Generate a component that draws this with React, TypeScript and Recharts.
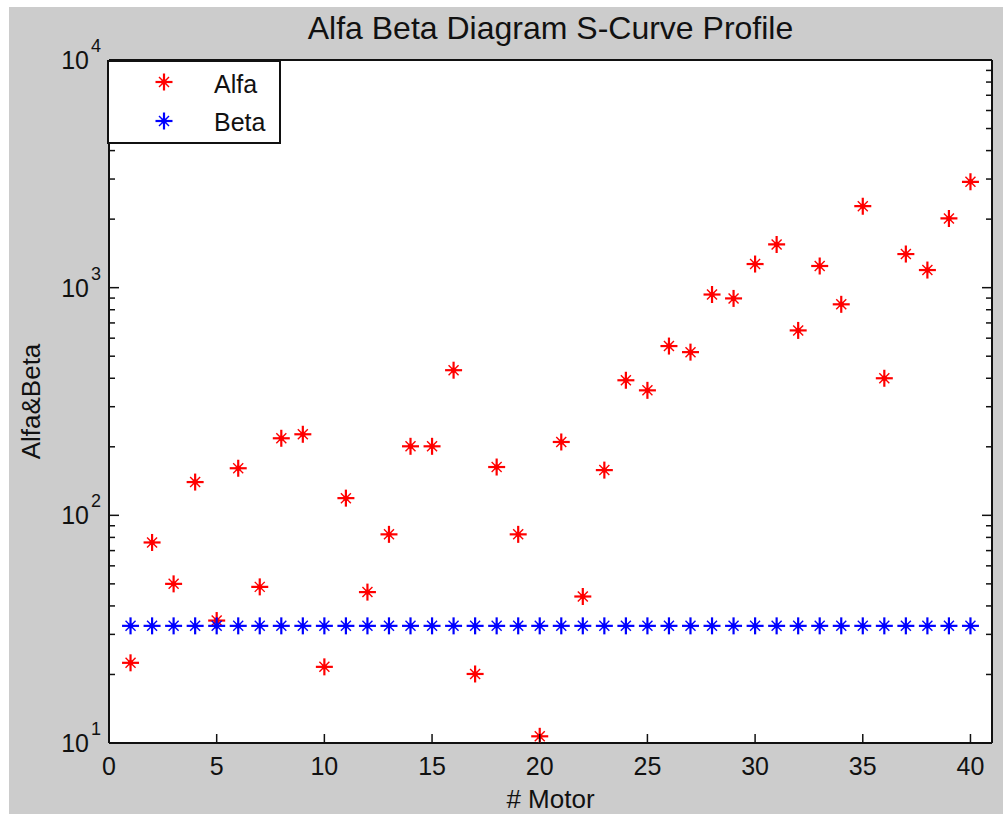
import { ScatterChart, Scatter, XAxis, YAxis, CartesianGrid, Legend } from "recharts";

const motors = [
  1, 2, 3, 4, 5, 6, 7, 8, 9, 10, 11, 12, 13, 14, 15, 16, 17, 18, 19, 20,
  21, 22, 23, 24, 25, 26, 27, 28, 29, 30, 31, 32, 33, 34, 35, 36, 37, 38, 39, 40,
];

const alfa = [
  22.5, 76, 50, 140, 34.5, 161, 48.5, 218, 227, 21.6,
  119, 46, 82.5, 201, 201, 434, 20.1, 163, 82.5, 10.7,
  210, 44, 158, 392, 354, 554, 521, 933, 897, 1270,
  1548, 649, 1245, 845, 2281, 400, 1405, 1195, 2014, 2917,
];

const beta = [
  32.7, 32.7, 32.7, 32.7, 32.7, 32.7, 32.7, 32.7, 32.7, 32.7,
  32.7, 32.7, 32.7, 32.7, 32.7, 32.7, 32.7, 32.7, 32.7, 32.7,
  32.7, 32.7, 32.7, 32.7, 32.7, 32.7, 32.7, 32.7, 32.7, 32.7,
  32.7, 32.7, 32.7, 32.7, 32.7, 32.7, 32.7, 32.7, 32.7, 32.7,
];

const xTicks = [0, 5, 10, 15, 20, 25, 30, 35, 40];
const yTicks = [
  10, 20, 30, 40, 50, 60, 70, 80, 90,
  100, 200, 300, 400, 500, 600, 700, 800, 900,
  1000, 2000, 3000, 4000, 5000, 6000, 7000, 8000, 9000,
  10000,
];
const decadeLabels: Record<number, string> = { 10: "1", 100: "2", 1000: "3", 10000: "4" };

const alfaData = motors.map((m, i) => ({ motor: m, value: alfa[i] }));
const betaData = motors.map((m, i) => ({ motor: m, value: beta[i] }));

const FONT = '"Liberation Sans", Arial, sans-serif';
const INK = "#111";
const axisStyle = { stroke: INK, strokeWidth: 2 };

// matlab-style '*' marker
function Asterisk(props: any) {
  const { cx, cy, fill } = props;
  if (cx == null || cy == null) return null;
  const a = 8.5;
  const d = 5;
  return (
    <g stroke={fill}>
      <line x1={cx - a} y1={cy} x2={cx + a} y2={cy} strokeWidth={2.2} />
      <line x1={cx} y1={cy - a} x2={cx} y2={cy + a} strokeWidth={2.2} />
      <line x1={cx - d} y1={cy - d} x2={cx + d} y2={cy + d} strokeWidth={1.4} />
      <line x1={cx - d} y1={cy + d} x2={cx + d} y2={cy - d} strokeWidth={1.4} />
      <circle cx={cx} cy={cy} r={2.7} fill={fill} stroke="none" />
    </g>
  );
}

function BottomTick({ x, y, payload }: any) {
  return (
    <g>
      <line x1={x} x2={x} y1={y} y2={y - 9} stroke={INK} strokeWidth={1.5} />
      <text x={x} y={y + 32} textAnchor="middle" fontSize={25} fill={INK} fontFamily={FONT}>
        {payload.value}
      </text>
    </g>
  );
}

function TopTick({ x, y }: any) {
  return <line x1={x} x2={x} y1={y} y2={y + 9} stroke={INK} strokeWidth={1.5} />;
}

function LeftTick({ x, y, payload }: any) {
  const exp = decadeLabels[payload.value];
  return (
    <g>
      <line x1={x} x2={x + (exp ? 10 : 6)} y1={y} y2={y} stroke={INK} strokeWidth={1.5} />
      {exp && (
        <text x={x - 20} y={y + 9} textAnchor="end" fontSize={25} fill={INK} fontFamily={FONT}>
          10
        </text>
      )}
      {exp && (
        <text x={x - 18} y={y - 8} fontSize={18} fill={INK} fontFamily={FONT}>
          {exp}
        </text>
      )}
    </g>
  );
}

function RightTick({ x, y, payload }: any) {
  const major = decadeLabels[payload.value];
  return <line x1={x} x2={x - (major ? 10 : 6)} y1={y} y2={y} stroke={INK} strokeWidth={1.5} />;
}

function TitleLabel({ viewBox }: any) {
  return (
    <text x={viewBox.x + viewBox.width / 2} y={32} textAnchor="middle" fontSize={32} fill={INK} fontFamily={FONT}>
      Alfa Beta Diagram S-Curve Profile
    </text>
  );
}

function XLabel({ viewBox }: any) {
  return (
    <text x={viewBox.x + viewBox.width / 2} y={viewBox.y + viewBox.height - 6} textAnchor="middle" fontSize={26} fill={INK} fontFamily={FONT}>
      # Motor
    </text>
  );
}

function YLabel({ viewBox }: any) {
  const cx = 31;
  const cy = viewBox.y + viewBox.height / 2;
  return (
    <text x={cx} y={cy} transform={`rotate(-90, ${cx}, ${cy})`} textAnchor="middle" fontSize={26} fill={INK} fontFamily={FONT}>
      Alfa&amp;Beta
    </text>
  );
}

function LegendBox({ payload }: any) {
  return (
    <svg width={174} height={84} style={{ display: "block" }}>
      <rect x={1} y={1} width={172} height={82} fill="#fff" stroke={INK} strokeWidth={2} />
      {(payload || []).map((p: any, i: number) => (
        <g key={p.value}>
          <Asterisk cx={57} cy={22 + 39 * i} fill={p.color} />
          <text x={107} y={33 + 38 * i} fontSize={25} fill={INK} fontFamily={FONT}>
            {p.value}
          </text>
        </g>
      ))}
    </svg>
  );
}

export default function App() {
  return (
    <div style={{ position: "absolute", left: 0, top: 0, width: 1003, height: 814, background: "#fff", overflow: "hidden" }}>
      <div style={{ position: "absolute", left: 9, top: 7, width: 994, height: 807, background: "#cccccc" }}>
        <ScatterChart width={994} height={807} margin={{ top: 0, right: 0, bottom: 0, left: 0 }}>
          <CartesianGrid fill="#fff" horizontal={false} vertical={false} />
          <XAxis
            dataKey="motor"
            type="number"
            domain={[0, 41]}
            ticks={xTicks}
            interval={0}
            tickSize={0}
            tickMargin={0}
            tickLine={false}
            tick={BottomTick}
            height={71}
            axisLine={axisStyle}
            label={XLabel}
          />
          <XAxis
            xAxisId="top"
            orientation="top"
            type="number"
            domain={[0, 41]}
            ticks={xTicks}
            interval={0}
            tickSize={0}
            tickMargin={0}
            tickLine={false}
            tick={TopTick}
            height={53}
            axisLine={axisStyle}
            label={TitleLabel}
          />
          <YAxis
            dataKey="value"
            type="number"
            scale="log"
            domain={[10, 10000]}
            allowDataOverflow
            ticks={yTicks}
            interval={0}
            tickSize={0}
            tickMargin={0}
            tickLine={false}
            tick={LeftTick}
            width={100}
            axisLine={axisStyle}
            label={YLabel}
          />
          <YAxis
            yAxisId="right"
            orientation="right"
            type="number"
            scale="log"
            domain={[10, 10000]}
            allowDataOverflow
            ticks={yTicks}
            interval={0}
            tickSize={0}
            tickMargin={0}
            tickLine={false}
            tick={RightTick}
            width={11}
            axisLine={axisStyle}
          />
          <Legend
            layout="vertical"
            align="center"
            verticalAlign="middle"
            content={LegendBox}
            wrapperStyle={{ top: 53, left: 98, width: 174, height: 84 }}
          />
          <Scatter name="Alfa" data={alfaData} fill="#ff0000" shape={Asterisk} isAnimationActive={false} />
          <Scatter name="Beta" data={betaData} fill="#0000ff" shape={Asterisk} isAnimationActive={false} />
        </ScatterChart>
      </div>
    </div>
  );
}
